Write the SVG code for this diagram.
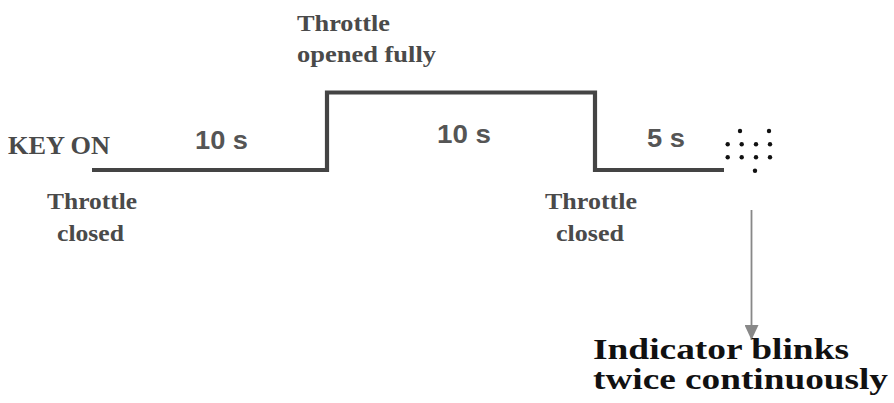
<svg xmlns="http://www.w3.org/2000/svg" width="894" height="403" viewBox="0 0 894 403">
<style>
.serif{font-family:"Liberation Serif","Times New Roman",serif;font-weight:bold;fill:#4a4a4a}
.sans{font-family:"Liberation Sans",Arial,sans-serif;font-weight:bold;fill:#555}
.big{font-family:"Liberation Serif","Times New Roman",serif;font-weight:bold;fill:#111}
.dot{fill:#111}
</style>
<defs>
<marker id="ah" markerWidth="16" markerHeight="14" refX="15" refY="7" orient="auto" markerUnits="userSpaceOnUse">
<path d="M0,0 L15,7 L0,14 Z" fill="#888"/>
</marker>
</defs>
<rect width="894" height="403" fill="#fff"/>
<g id="connectors">
<path id="signal" d="M92,170 H327 V92.5 H595 V170 H724" fill="none" stroke="#444" stroke-width="4.2"/>
<line id="arrow" x1="751.5" y1="210" x2="751.5" y2="340" stroke="#888" stroke-width="1.8" marker-end="url(#ah)"/>
</g>
<g id="keyon"><text class="serif" x="8" y="154" font-size="25" textLength="102" lengthAdjust="spacingAndGlyphs">KEY ON</text></g>
<g id="t1"><text class="sans" x="195" y="149" font-size="26" textLength="53" lengthAdjust="spacingAndGlyphs">10 s</text></g>
<g id="t2"><text class="sans" x="437" y="143" font-size="26" textLength="54" lengthAdjust="spacingAndGlyphs">10 s</text></g>
<g id="t3"><text class="sans" x="647" y="147" font-size="26" textLength="38" lengthAdjust="spacingAndGlyphs">5 s</text></g>
<g id="opened">
<text class="serif" x="297" y="31" font-size="23" textLength="93" lengthAdjust="spacingAndGlyphs">Throttle</text>
<text class="serif" x="297" y="62" font-size="23" textLength="139" lengthAdjust="spacingAndGlyphs">opened fully</text>
</g>
<g id="closed1">
<text class="serif" x="47" y="209" font-size="23" textLength="90" lengthAdjust="spacingAndGlyphs">Throttle</text>
<text class="serif" x="57" y="241" font-size="23" textLength="67" lengthAdjust="spacingAndGlyphs">closed</text>
</g>
<g id="closed2">
<text class="serif" x="545" y="209" font-size="23" textLength="92" lengthAdjust="spacingAndGlyphs">Throttle</text>
<text class="serif" x="556" y="241" font-size="23" textLength="68" lengthAdjust="spacingAndGlyphs">closed</text>
</g>
<g id="indicator">
<circle class="dot" cx="740" cy="131" r="2.2"/>
<circle class="dot" cx="769" cy="131" r="2.2"/>
<circle class="dot" cx="727.7" cy="144.3" r="2.2"/>
<circle class="dot" cx="741.7" cy="144.3" r="2.2"/>
<circle class="dot" cx="756" cy="144.3" r="2.2"/>
<circle class="dot" cx="770" cy="144.3" r="2.2"/>
<circle class="dot" cx="727.7" cy="157.3" r="2.2"/>
<circle class="dot" cx="741.7" cy="157.3" r="2.2"/>
<circle class="dot" cx="756" cy="157.3" r="2.2"/>
<circle class="dot" cx="770" cy="157.3" r="2.2"/>
<circle class="dot" cx="755" cy="170.7" r="2.2"/>
</g>
<g id="blinks">
<text class="big" x="593" y="359" font-size="30" textLength="256" lengthAdjust="spacingAndGlyphs">Indicator blinks</text>
<text class="big" x="593" y="389" font-size="30" textLength="295" lengthAdjust="spacingAndGlyphs">twice continuously</text>
</g>
</svg>
